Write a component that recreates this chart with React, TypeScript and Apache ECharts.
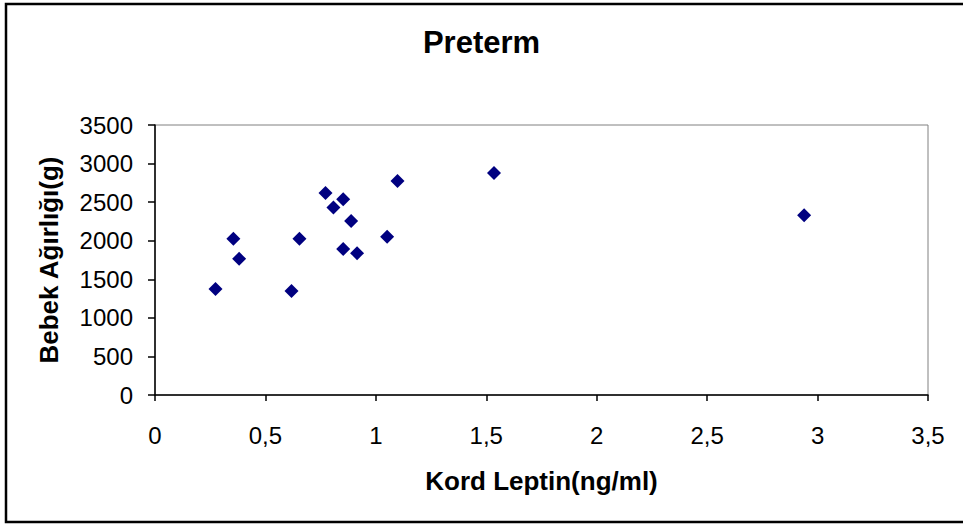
import React, { useEffect, useRef } from "react";
import * as echarts from "echarts";

// Cord leptin (ng/ml) against birth weight (g), preterm group
const leptin = [0.274, 0.355, 0.381, 0.618, 0.654, 0.772, 0.808, 0.852, 0.852, 0.888, 0.915, 1.051, 1.098, 1.535, 2.939];
const weight = [1373, 2024, 1765, 1347, 2024, 2619, 2430, 2538, 1894, 2257, 1839, 2050, 2775, 2878, 2331];

const titleText = "Preterm";
const xName = "Kord Leptin(ng/ml)";
const yName = "Bebek Ağırlığı(g)";

const FONT = "'Liberation Sans', Arial, sans-serif";

export default function App() {
  const ref = useRef<HTMLDivElement>(null);

  useEffect(() => {
    if (!ref.current) return;
    const chart = echarts.init(ref.current, undefined, { renderer: "svg" });
    const points = leptin.map((x, i) => [x, weight[i]]);
    chart.setOption({
      animation: false,
      backgroundColor: "#ffffff",
      textStyle: { fontFamily: FONT },
      title: {
        text: titleText,
        left: "center",
        top: 27,
        itemGap: 0,
        padding: 0,
        textStyle: { fontFamily: FONT, fontSize: 31, fontWeight: "bold", color: "#000" },
      },
      grid: {
        left: 155,
        right: 35,
        top: 125,
        bottom: 130,
        show: true,
        borderColor: "#808080",
        borderWidth: 1,
        backgroundColor: "#ffffff",
      },
      xAxis: {
        type: "value",
        min: 0,
        max: 3.5,
        interval: 0.5,
        name: xName,
        nameLocation: "middle",
        nameGap: 73,
        nameTextStyle: { fontFamily: FONT, fontSize: 26, fontWeight: "bold", color: "#000" },
        axisLine: { show: true, onZero: false, lineStyle: { color: "#000", width: 1.5 } },
        axisTick: { show: true, inside: false, length: 6, lineStyle: { color: "#000", width: 1.5 } },
        axisLabel: {
          margin: 28,
          fontFamily: FONT,
          fontSize: 24,
          color: "#000",
          formatter: (v: number) => String(v).replace(".", ","),
        },
        splitLine: { show: false },
      },
      yAxis: {
        type: "value",
        min: 0,
        max: 3500,
        interval: 500,
        name: yName,
        nameLocation: "middle",
        nameGap: 93,
        nameRotate: 90,
        nameTextStyle: { fontFamily: FONT, fontSize: 26, fontWeight: "bold", color: "#000" },
        axisLine: { show: true, onZero: false, lineStyle: { color: "#000", width: 1.5 } },
        axisTick: { show: true, inside: false, length: 7, lineStyle: { color: "#000", width: 1.5 } },
        axisLabel: {
          margin: 22,
          fontFamily: FONT,
          fontSize: 24,
          color: "#000",
          formatter: (v: number) => String(v),
        },
        splitLine: { show: false },
      },
      graphic: [
        {
          type: "rect",
          shape: { x: 6, y: 4, width: 1000, height: 518 },
          style: { fill: "none", stroke: "#000", lineWidth: 2.5 },
          silent: true,
          z: 100,
        },
      ],
      series: [
        {
          type: "scatter",
          data: points,
          symbol: "diamond",
          symbolSize: 14,
          itemStyle: { color: "#000080", opacity: 1 },
        },
      ],
    });
    return () => chart.dispose();
  }, []);

  return (
    <div
      ref={ref}
      style={{ position: "absolute", left: 0, top: 0, width: 963, height: 525 }}
    />
  );
}
